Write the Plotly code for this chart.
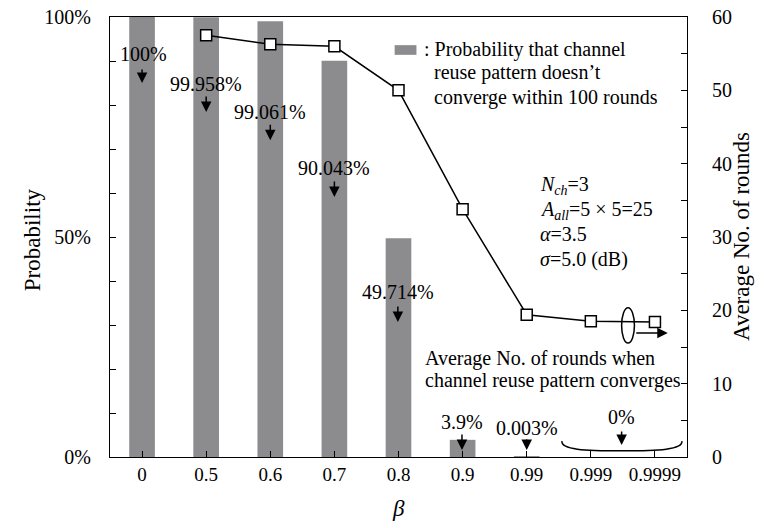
import plotly.graph_objects as go

categories = ["0", "0.5", "0.6", "0.7", "0.8", "0.9", "0.99", "0.999", "0.9999"]
prob_not_converge = [100, 99.958, 99.061, 90.043, 49.714, 3.9, 0.003, 0, 0]
prob_labels = ["100%", "99.958%", "99.061%", "90.043%", "49.714%", "3.9%", "0.003%", "0%"]
avg_rounds = [None, 57.5, 56.3, 56.0, 50.0, 33.8, 19.4, 18.5, 18.4]
left_ticks = [0, 50, 100]
right_ticks = [0, 10, 20, 30, 40, 50, 60]

FONT = "Liberation Serif"
FS = 20
xpos = list(range(len(categories)))

fig = go.Figure()
fig.add_trace(go.Bar(x=xpos, y=prob_not_converge, width=0.4,
                     marker=dict(color="#8c8c8e", line=dict(width=0)),
                     showlegend=False, yaxis="y"))
fig.add_trace(go.Scatter(x=xpos, y=avg_rounds, yaxis="y2", mode="lines+markers",
                         line=dict(color="black", width=1.5),
                         marker=dict(symbol="square", size=11, color="white",
                                     line=dict(color="black", width=1.5)),
                         showlegend=False))

annotations = []
label_pos = [(0.02, 91.6, 0, 85.0, -15), (1.0, 84.8, 1.0, 78.4, -17),
             (2.0, 78.4, 2.0, 72.0, -17), (3.0, 65.7, 3.0, 59.1, -17),
             (3.99, 37.5, 3.99, 30.7, -17), (4.99, 8.0, 4.99, 1.6, -17),
             (6.0, 6.6, 6.0, 1.6, -12), (7.48, 9.1, 7.48, 2.7, -15)]
for txt, (tx, ty, axx, ahy, ay) in zip(prob_labels, label_pos):
    annotations.append(dict(x=tx, y=ty, xref="x", yref="y", text=txt, showarrow=False,
                            font=dict(family=FONT, size=FS, color="black")))
    annotations.append(dict(x=axx, y=ahy, xref="x", yref="y", text="", showarrow=True,
                            ax=0, ay=ay, arrowhead=2, arrowsize=1.4, arrowwidth=1.5,
                            arrowcolor="black", standoff=0, startstandoff=0))

def txt_left(x, y, s):
    annotations.append(dict(x=x, y=y, xref="x", yref="y", text=s, showarrow=False,
                            xanchor="left", font=dict(family=FONT, size=FS, color="black")))

txt_left(4.36, 92.7, ": Probability that channel")
txt_left(4.52, 87.3, "reuse pattern doesn’t")
txt_left(4.52, 81.8, "converge within 100 rounds")
txt_left(6.18, 61.6, "<i>N</i><sub><i>ch</i></sub>=3")
txt_left(6.18, 56.0, "<i>A</i><sub><i>all</i></sub>=5 × 5=25")
txt_left(6.18, 50.6, "<i>α</i>=3.5")
txt_left(6.18, 45.0, "<i>σ</i>=5.0 (dB)")
txt_left(4.38, 22.5, "Average No. of rounds when")
txt_left(4.38, 17.5, "channel reuse pattern converges")

# axis titles as annotations
annotations.append(dict(x=1.0936, y=0.5, xref="paper", yref="paper", text="Average No. of rounds",
                        textangle=-90, showarrow=False, xanchor="center", yanchor="middle",
                        font=dict(family=FONT, size=23, color="black")))
annotations.append(dict(x=-0.1352, y=0.495, xref="paper", yref="paper", text="Probability",
                        textangle=-90, showarrow=False, xanchor="center", yanchor="middle",
                        font=dict(family=FONT, size=23, color="black")))
annotations.append(dict(x=0.5, y=-0.116, xref="paper", yref="paper", text="<i>β</i>",
                        showarrow=False, xanchor="center", yanchor="middle",
                        font=dict(family=FONT, size=23, color="black")))

# arrow pointing right from the loop
annotations.append(dict(x=8.2, y=28.2, xref="x", yref="y", text="", showarrow=True,
                        ax=-33, ay=0, arrowhead=2, arrowsize=1.4, arrowwidth=1.5,
                        arrowcolor="black", standoff=0, startstandoff=0))

shapes = [
    dict(type="rect", xref="x", yref="y", x0=3.94, x1=4.28, y0=91.4, y1=93.6,
         fillcolor="#8c8c8e", line=dict(width=0)),
    dict(type="circle", xref="x", yref="y", x0=7.48, x1=7.68, y0=25.9, y1=33.9,
         line=dict(color="black", width=1.5)),
    dict(type="path", xref="x", yref="y",
         path="M 6.55,3.6 C 6.53,1.7 6.9,1.4 7.48,1.4 C 8.06,1.4 8.44,1.7 8.42,3.6",
         line=dict(color="black", width=1.5)),
]

# the page body adds an 8px offset, compensate in margins
fig.update_layout(
    width=765, height=528,
    margin=dict(l=102, r=86, t=9, b=79, autoexpand=False),
    plot_bgcolor="white", paper_bgcolor="white",
    font=dict(family=FONT, size=FS, color="black"),
    xaxis=dict(range=[-0.5, 8.5], tickmode="array", tickvals=xpos, ticktext=categories,
               showline=True, linecolor="black", linewidth=1, mirror=True,
               ticks="inside", ticklen=6, tickcolor="black", showgrid=False, zeroline=False,
               automargin=False, ticklabeloverflow="allow", tickfont=dict(size=19)),
    yaxis=dict(range=[0, 100], tickmode="array", tickvals=left_ticks,
               ticktext=[f"{v}%" for v in left_ticks],
               showline=True, linecolor="black", linewidth=1,
               ticks="inside", ticklen=6, tickcolor="black", showgrid=False, zeroline=False,
               minor=dict(dtick=10, tick0=0, ticks="inside", ticklen=6, tickcolor="black"),
               ticklabelstandoff=14, automargin=False, ticklabeloverflow="allow"),
    yaxis2=dict(range=[0, 60], overlaying="y", side="right", tickmode="array",
                tickvals=right_ticks,
                showline=True, linecolor="black", linewidth=1,
                ticks="inside", ticklen=6, tickcolor="black", showgrid=False, zeroline=False,
                minor=dict(dtick=5, tick0=0, ticks="inside", ticklen=6, tickcolor="black"),
                ticklabelstandoff=20, automargin=False, ticklabeloverflow="allow"),
    annotations=annotations,
    shapes=shapes,
)

fig.write_html("out.html")
